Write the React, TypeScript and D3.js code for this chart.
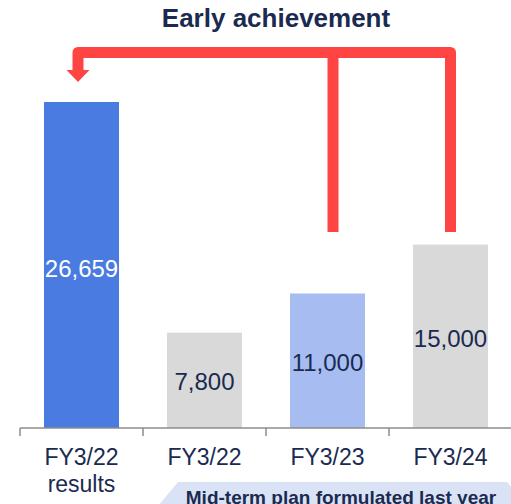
import * as d3 from "d3";

// Target chart: results vs. mid-term plan (bars), with an "early achievement" arrow.
const categories = ["results", "plan22", "plan23", "plan24"];
const labelsTop = ["FY3/22", "FY3/22", "FY3/23", "FY3/24"];
const labelsBottom = ["results", "", "", ""];
const values = [26659, 7800, 11000, 15000];
const valueText = ["26,659", "7,800", "11,000", "15,000"];
const barColors = ["#4a7be0", "#d9d9d9", "#a7bdf2", "#d9d9d9"];
const valueColors = ["#ffffff", "#1a2a50", "#1a2a50", "#1a2a50"];

const W = 511;
const H = 504;
const BASE = 428;
const NAVY = "#1a2a50";
const RED = "#ff4444";
const FONT = "Liberation Sans, Arial, sans-serif";

const x = d3
  .scaleBand<string>()
  .domain(categories)
  .range([20, 512])
  .paddingInner(0.39)
  .paddingOuter(0.195);

const y = d3.scaleLinear().domain([0, 26659]).range([BASE, 102]);

export default function App() {
  const step = x.step();
  const bw = x.bandwidth();
  const cx = (c: string) => (x(c) ?? 0) + bw / 2;
  const ticks = d3.range(categories.length + 1).map((i) => 20 + i * step);

  // red bracket arrow from the plan bars back to the results bar
  const xl = cx(categories[0]) - 3.5;
  const xm = cx(categories[2]) + 5.5;
  const xr = cx(categories[3]) + 0;
  const yTop = 52.5;
  const yEnd = 232;
  const bracket = d3.path();
  bracket.moveTo(xl, 70);
  bracket.lineTo(xl, yTop);
  bracket.lineTo(xr, yTop);
  bracket.lineTo(xr, yEnd);
  const stem = d3.path();
  stem.moveTo(xm, yTop);
  stem.lineTo(xm, yEnd);

  return (
    <svg
      width={W}
      height={H}
      viewBox={`0 0 ${W} ${H}`}
      style={{ position: "absolute", left: 0, top: 0, display: "block", fontFamily: FONT }}
    >
      <rect width={W} height={H} fill="#ffffff" />
      <text x={276} y={27} textAnchor="middle" fontSize={26} fontWeight={700} fill={NAVY}>
        Early achievement
      </text>

      {categories.map((c, i) => (
        <rect key={c} x={x(c)} y={y(values[i])} width={bw} height={BASE - y(values[i])} fill={barColors[i]} />
      ))}

      <path d={bracket.toString()} fill="none" stroke={RED} strokeWidth={11} strokeLinejoin="round" />
      <path d={stem.toString()} fill="none" stroke={RED} strokeWidth={11} />
      <path d={`M ${xl - 11.5} 70 L ${xl + 11.5} 70 L ${xl} 82 Z`} fill={RED} />

      {categories.map((c, i) => {
        const ty = i === 0 ? 277 : y(values[i]) + (i === 1 ? 57 : i === 2 ? 78 : 102);
        return (
          <text key={c} x={cx(c)} y={ty} textAnchor="middle" fontSize={24} fill={valueColors[i]}>
            {valueText[i]}
          </text>
        );
      })}

      <line x1={20} x2={W} y1={BASE} y2={BASE} stroke="#8c8c8c" strokeWidth={1.5} />
      {ticks.map((t) => (
        <line key={t} x1={t} x2={t} y1={BASE} y2={436} stroke="#8c8c8c" strokeWidth={1.5} />
      ))}

      {categories.map((c, i) => (
        <g key={c}>
          <text x={cx(c)} y={465} textAnchor="middle" fontSize={23} fill={NAVY}>
            {labelsTop[i]}
          </text>
          {labelsBottom[i] && (
            <text x={cx(c)} y={492} textAnchor="middle" fontSize={23} fill={NAVY}>
              {labelsBottom[i]}
            </text>
          )}
        </g>
      ))}

      <path d="M 178 482 L 507 482 L 530 506 L 507 530 L 178 530 L 158 506 Z" fill="#dae3f5" />
      <text x={341} y={504} textAnchor="middle" fontSize={19} fontWeight={700} fill={NAVY}>
        Mid-term plan formulated last year
      </text>
    </svg>
  );
}
